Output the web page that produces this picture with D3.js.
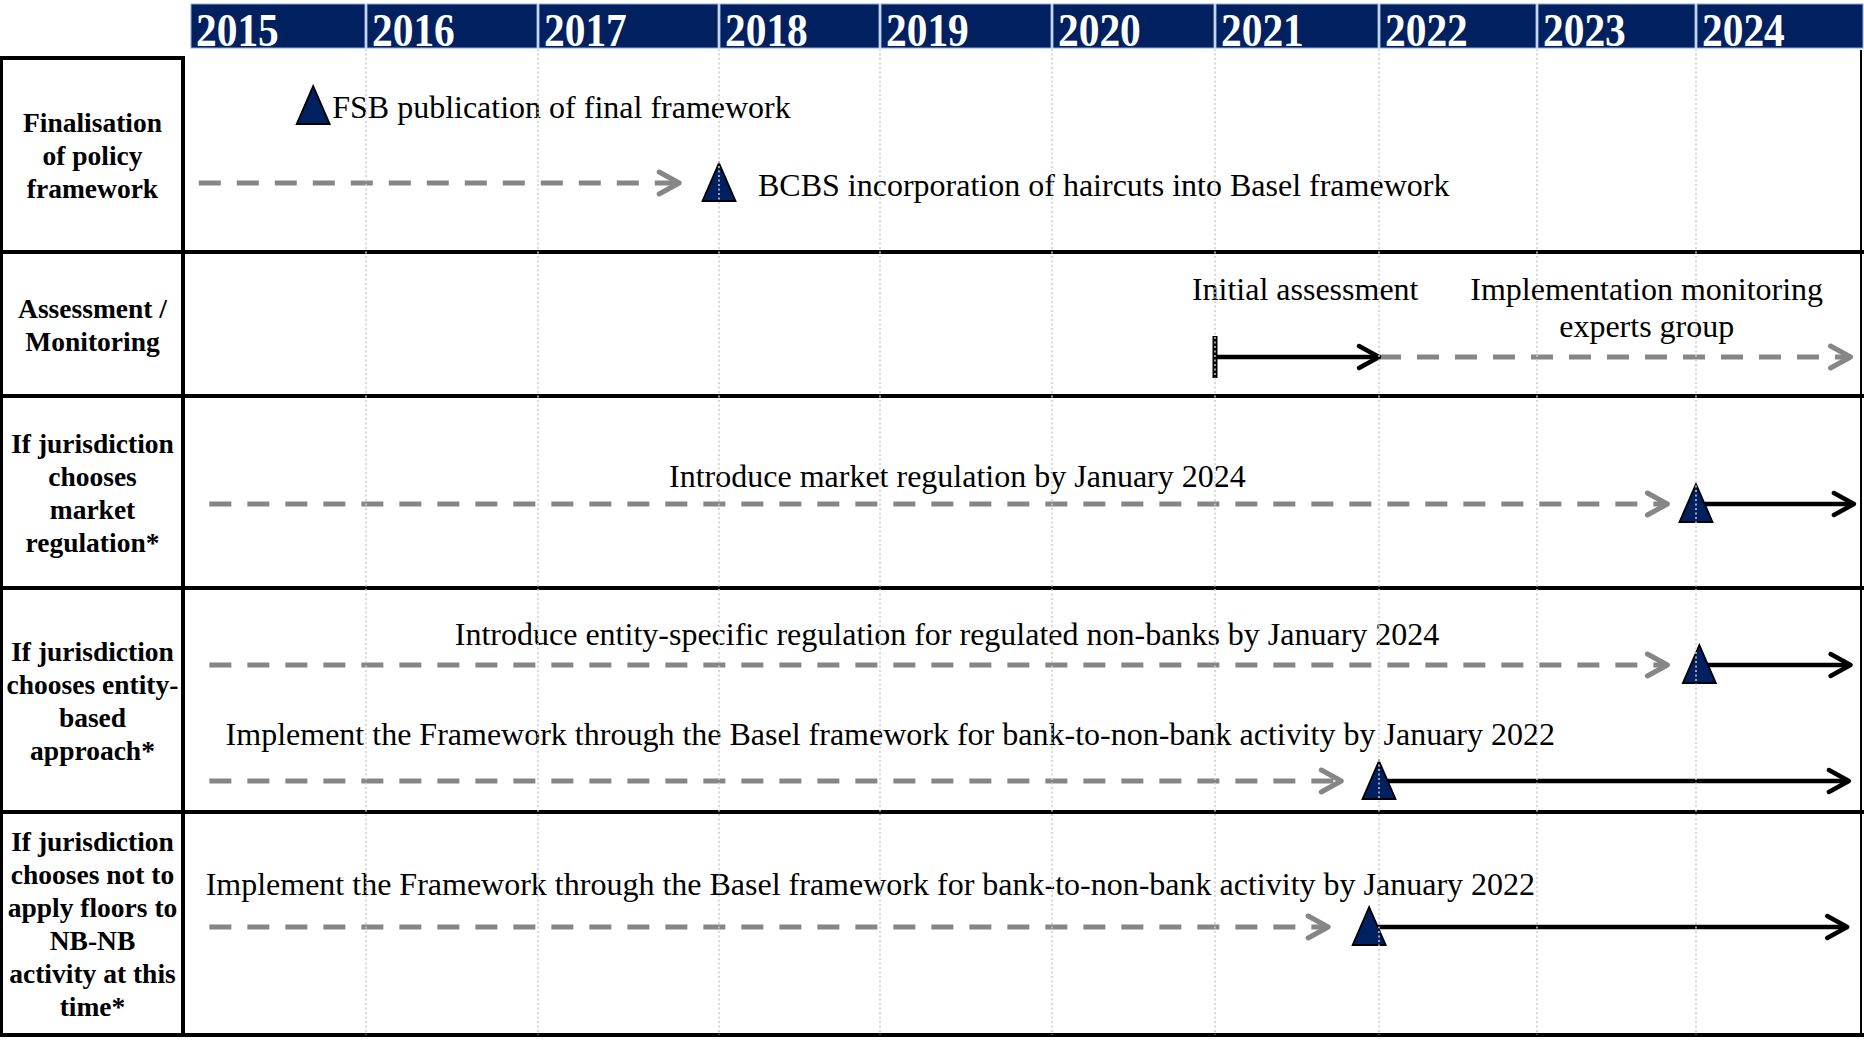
<!DOCTYPE html>
<html>
<head>
<meta charset="utf-8">
<script src="https://cdn.jsdelivr.net/npm/d3@7"></script>
<style>
  body { margin: 0; background: #fff; }
  svg { display: block; }
</style>
</head>
<body>
<div id="timeline"></div>
<script>
// ---- data (dates as fractional years)
var years = [2015, 2016, 2017, 2018, 2019, 2020, 2021, 2022, 2023, 2024];

var rowLabels = [
  ["Finalisation", "of policy", "framework"],
  ["Assessment /", "Monitoring"],
  ["If jurisdiction", "chooses", "market", "regulation*"],
  ["If jurisdiction", "chooses entity-", "based", "approach*"],
  ["If jurisdiction", "chooses not to", "apply floors to", "NB-NB", "activity at this", "time*"]
];

// triangles
var milestones = [
  {lane: "fsb", date: 2015.70},
  {lane: "bcbs", date: 2018.00},
  {lane: "market", date: 2024.00},
  {lane: "entity", date: 2024.02},
  {lane: "basel", date: 2022.00},
  {lane: "nbnb", date: 2021.94}
];

// grey dashed arrows
var prepPeriods = [
  {lane: "bcbs", start: 2015.05, end: 2017.78},
  {lane: "monitor", start: 2022.00, end: 2024.92},
  {lane: "market", start: 2015.11, end: 2023.82},
  {lane: "entity", start: 2015.11, end: 2023.82},
  {lane: "basel", start: 2015.11, end: 2021.77},
  {lane: "nbnb", start: 2015.11, end: 2021.69}
];

// black solid arrows
var activePeriods = [
  {lane: "monitor", start: 2021.00, end: 2022.00},
  {lane: "market", start: 2024.00, end: 2024.94},
  {lane: "entity", start: 2024.02, end: 2024.92},
  {lane: "basel", start: 2022.00, end: 2024.91},
  {lane: "nbnb", start: 2021.94, end: 2024.90}
];

var startMarks = [{lane: "monitor", date: 2021.00}];

// labels next to a milestone
var sideLabels = [
  {lane: "fsbText", date: 2015.70, gap: 19, text: "FSB publication of final framework"},
  {lane: "bcbsText", date: 2018.00, gap: 39, text: "BCBS incorporation of haircuts into Basel framework"}
];

// labels centred over a period
var periodLabels = [
  {lane: "assessText", date: 2021.55, lines: ["Initial assessment"]},
  {lane: "monitorText", date: 2023.69, lines: ["Implementation monitoring", "experts group"]},
  {lane: "marketText", date: 2019.45, lines: ["Introduce market regulation by January 2024"]},
  {lane: "entityText", date: 2019.39, lines: ["Introduce entity-specific regulation for regulated non-banks by January 2024"]},
  {lane: "baselText", date: 2019.06, lines: ["Implement the Framework through the Basel framework for bank-to-non-bank activity by January 2022"]},
  {lane: "nbnbText", date: 2018.94, lines: ["Implement the Framework through the Basel framework for bank-to-non-bank activity by January 2022"]}
];

// ---- layout
var width = 1864, height = 1043;
var labelColW = 183;
var rowEdges = [58, 252, 396, 588, 812, 1035];
// the year columns of the original are not all the same width
var columnEdges = [190, 366, 538, 719, 880, 1052, 1215, 1379, 1537, 1696, 1864];
var laneY = {
  fsb: 106, bcbs: 183, monitor: 357, market: 504, entity: 665, basel: 781, nbnb: 927,
  fsbText: 118, bcbsText: 196, assessText: 300, monitorText: 300,
  marketText: 487, entityText: 645, baselText: 745, nbnbText: 895
};
var navy = "#002060", grey = "#868686";
var serif = "'Liberation Serif', 'Times New Roman', serif";

var svg = d3.select("#timeline")
  .append("svg")
    .attr("width", width)
    .attr("height", height);

var x = d3.scaleLinear()
    .domain(years.concat([2025]))
    .range(columnEdges);

// ---- year header
var head = svg.append("g");
head.selectAll("rect")
  .data(years)
  .enter().append("rect")
    .attr("x", d => x(d) + 1)
    .attr("y", 4)
    .attr("width", d => x(d + 1) - x(d) - 2)
    .attr("height", 44)
    .attr("fill", navy)
    .attr("stroke", "#8faadc")
    .attr("stroke-width", 1);

head.selectAll("text")
  .data(years)
  .enter().append("text")
    .attr("transform", d => "translate(" + (x(d) + 6) + ",46) scale(0.9,1)")
    .attr("font-family", serif)
    .attr("font-weight", "bold")
    .attr("font-size", 46)
    .attr("fill", "#fff")
    .text(d => d);

// ---- table frame
var frame = svg.append("g").attr("stroke", "#000");
frame.append("line")
    .attr("x1", 0).attr("x2", labelColW + 2)
    .attr("y1", rowEdges[0]).attr("y2", rowEdges[0])
    .attr("stroke-width", 4);
frame.selectAll(".sep")
  .data(rowEdges.slice(1))
  .enter().append("line")
    .attr("class", "sep")
    .attr("x1", 0).attr("x2", width)
    .attr("y1", d => d).attr("y2", d => d)
    .attr("stroke-width", 4);
frame.append("line")
    .attr("x1", 1.5).attr("x2", 1.5)
    .attr("y1", rowEdges[0] - 2).attr("y2", rowEdges[5] + 2)
    .attr("stroke-width", 3);
frame.append("line")
    .attr("x1", labelColW).attr("x2", labelColW)
    .attr("y1", rowEdges[0] - 2).attr("y2", rowEdges[5] + 2)
    .attr("stroke-width", 4);
frame.append("line")
    .attr("x1", 1861).attr("x2", 1861)
    .attr("y1", 50).attr("y2", rowEdges[5])
    .attr("stroke-width", 2);

// ---- row labels
var lineH = 33;
rowLabels.forEach(function(lines, i) {
  var mid = (rowEdges[i] + rowEdges[i + 1]) / 2;
  var top = mid - (lines.length - 1) / 2 * lineH + 10;
  svg.append("g").selectAll("text")
    .data(lines)
    .enter().append("text")
      .attr("x", labelColW / 2 + 1)
      .attr("y", (d, j) => top + j * lineH)
      .attr("text-anchor", "middle")
      .attr("font-family", serif)
      .attr("font-weight", "bold")
      .attr("font-size", 27.5)
      .text(d => d);
});

// ---- arrows
function chevron(xe, y) {
  return "M" + (xe - 20) + "," + (y - 11) + "L" + xe + "," + y + "L" + (xe - 20) + "," + (y + 11);
}

var prep = svg.append("g")
    .attr("stroke", grey)
    .attr("stroke-width", 5)
    .attr("fill", "none");
prep.selectAll("line")
  .data(prepPeriods)
  .enter().append("line")
    .attr("x1", d => x(d.start))
    .attr("x2", d => x(d.end) - 3)
    .attr("y1", d => laneY[d.lane])
    .attr("y2", d => laneY[d.lane])
    .attr("stroke-dasharray", "22,16");
prep.selectAll("path")
  .data(prepPeriods)
  .enter().append("path")
    .attr("d", d => chevron(x(d.end), laneY[d.lane]))
    .attr("stroke-linecap", "round")
    .attr("stroke-linejoin", "round");

var active = svg.append("g")
    .attr("stroke", "#000")
    .attr("stroke-width", 4.5)
    .attr("fill", "none");
active.selectAll("line")
  .data(activePeriods)
  .enter().append("line")
    .attr("x1", d => x(d.start))
    .attr("x2", d => x(d.end) - 3)
    .attr("y1", d => laneY[d.lane])
    .attr("y2", d => laneY[d.lane]);
active.selectAll("path")
  .data(activePeriods)
  .enter().append("path")
    .attr("d", d => chevron(x(d.end), laneY[d.lane]))
    .attr("stroke-linecap", "round")
    .attr("stroke-linejoin", "round");

svg.selectAll(".startmark")
  .data(startMarks)
  .enter().append("rect")
    .attr("class", "startmark")
    .attr("x", d => x(d.date) - 2.5)
    .attr("y", d => laneY[d.lane] - 21)
    .attr("width", 5)
    .attr("height", 42)
    .attr("fill", "#000");

// ---- milestones
svg.selectAll(".milestone")
  .data(milestones)
  .enter().append("path")
    .attr("class", "milestone")
    .attr("d", function(d) {
      var cx = x(d.date), y = laneY[d.lane];
      return "M" + cx + "," + (y - 20) + "L" + (cx + 16.5) + "," + (y + 18) + "L" + (cx - 16.5) + "," + (y + 18) + "Z";
    })
    .attr("fill", navy)
    .attr("stroke", "#000")
    .attr("stroke-width", 1.8);

// ---- texts
svg.selectAll(".sidelabel")
  .data(sideLabels)
  .enter().append("text")
    .attr("class", "sidelabel")
    .attr("x", d => x(d.date) + d.gap)
    .attr("y", d => laneY[d.lane])
    .attr("font-family", serif)
    .attr("font-size", 32)
    .text(d => d.text);

periodLabels.forEach(function(p) {
  svg.append("g").selectAll("text")
    .data(p.lines)
    .enter().append("text")
      .attr("x", x(p.date))
      .attr("y", (d, j) => laneY[p.lane] + j * 37)
      .attr("text-anchor", "middle")
      .attr("font-family", serif)
      .attr("font-size", 32)
      .text(d => d);
});

// ---- dotted year gridlines (drawn over everything)
svg.append("g").selectAll("line")
  .data(years.slice(1))
  .enter().append("line")
    .attr("x1", d => x(d)).attr("x2", d => x(d))
    .attr("y1", 49).attr("y2", rowEdges[5])
    .attr("stroke", "#cccccc")
    .attr("stroke-width", 1.5)
    .attr("stroke-dasharray", "2,2.5");
</script>
</body>
</html>
